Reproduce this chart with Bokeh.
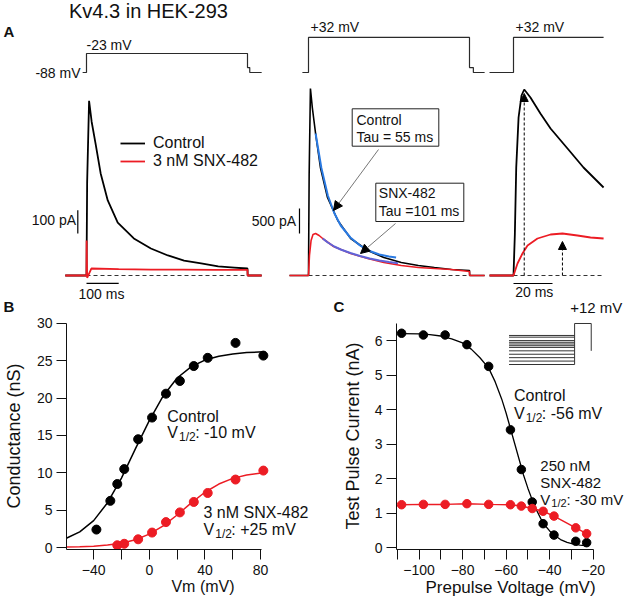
import math
from bokeh.plotting import figure
from bokeh.models import (Range1d, FixedTicker, Label, Arrow, NormalHead,
                          BoxAnnotation, Legend, LegendItem)
from bokeh.layouts import column, row
from bokeh.embed import file_html
from bokeh.resources import INLINE

FONT = "Liberation Sans"
INK = "#111111"
RED = "#ec1c24"
VOLT = "#2a2a2a"
FIT_CTRL = "#2a7ae2"
FIT_SNX = "#5f63d8"

# ======================= DATA =======================
# Panel A, left: step -88 -> -23 mV ; time (ms), current (pA)
a1_ctrl_t = [-66, 0, 2, 8, 16, 28, 44, 66, 97, 147, 200, 253, 303, 356, 409, 459, 500, 500.5, 544]
a1_ctrl_i = [0, 0, 400, 750, 660, 567, 438, 322, 227, 159, 116, 86, 64, 52, 39, 34, 30, 0, 0]
a1_snx_t = [-66, 0, 0.3, 2, 15, 100, 200, 300, 400, 500, 500.5, 544]
a1_snx_i = [0, 0, 150, -10, 30, 27, 25, 25, 24, 24, 0, 0]
a1_v_t = [-12, 0, 0, 500, 500, 507, 507, 544]
a1_v_mv = [-88, -88, -23, -23, -71, -71, -88, -88]

# Panel A, middle: step -88 -> +32 mV
a2_ctrl_t = [-59, 0, 2, 6, 12, 22, 37, 59, 91, 131, 184, 234, 288, 341, 391, 444, 500, 500.5, 547]
a2_ctrl_i = [0, 0, 2000, 3740, 3350, 2840, 2160, 1560, 1100, 740, 500, 360, 260, 200, 160, 120, 100, 0, 0]
a2_snx_t = [-59, 0, 3, 8, 14, 22, 33, 44, 78, 131, 184, 234, 288, 341, 391, 444, 500, 500.5, 547]
a2_snx_i = [0, 0, 400, 700, 820, 840, 800, 740, 580, 440, 340, 260, 200, 160, 140, 120, 80, 0, 0]
a2_v_t = [-19, 0, 0, 500, 500, 512, 512, 547]
a2_v_mv = [-88, -88, 32, 32, -71, -71, -88, -88]
# exponential fits drawn over the decays (Tau = 55 ms and 101 ms)
fit_ctrl_t = [22, 40, 60, 80, 100, 130, 160, 190, 220, 250, 272]
fit_ctrl_i = [2840, 2150, 1600, 1250, 1000, 760, 600, 490, 420, 380, 360]
fit_snx_t = [44, 60, 80, 100, 130, 160, 190, 220, 250, 278]
fit_snx_i = [740, 660, 580, 520, 450, 390, 340, 300, 270, 245]

# Panel A, right: first 46 ms of the +32 mV step
a3_ctrl_t = [-12.3, 0, 0.7, 1.4, 2.6, 4.1, 5.5, 8.7, 13.8, 19, 27.7, 35.9, 46.2]
a3_ctrl_i = [0, 0, 830, 2160, 3160, 3600, 3720, 3560, 3240, 2940, 2540, 2160, 1760]
a3_snx_t = [-12.3, 0, 2.05, 4.6, 7.2, 12.3, 19, 25.1, 32.8, 39.5, 46.2]
a3_snx_i = [0, 0, 240, 440, 600, 740, 820, 840, 800, 760, 740]
a3_v_t = [-12.3, 0, 0, 46.2]
a3_v_mv = [-88, -88, 32, 32]

PULSE_MS = 500
PULSE3_MS = 46.2
SCALE1_PA, SCALE1_MS = 100, 100
SCALE2_PA, SCALE3_MS = 500, 20

# Panel B: conductance vs Vm
b_v = [-38, -28, -23, -18, -8, 2, 12, 22, 32, 42, 62, 82]
b_ctrl = [2.4, 6.25, 8.5, 10.5, 14.5, 17.4, 20.6, 22.3, 24.3, 25.4, 27.4, 25.7]
b_snx_v = [-23, -18, -8, 2, 12, 22, 32, 42, 62, 82]
b_snx = [0.3, 0.5, 1.1, 2.0, 3.4, 4.7, 6.1, 7.3, 9.1, 10.3]
b_fit_v = [-60, -50, -40, -30, -20, -10, 0, 10, 20, 30, 40, 50, 60, 70, 82]
b_fit_ctrl = [1.2, 2.1, 3.6, 6.0, 9.3, 13.2, 17.0, 20.3, 22.7, 24.2, 25.1, 25.6, 25.9, 26.1, 26.2]
b_fit_snx = [0.05, 0.09, 0.18, 0.32, 0.58, 1.04, 1.79, 2.9, 4.35, 5.95, 7.4, 8.5, 9.26, 9.7, 10.0]

# Panel C: test pulse current vs prepulse voltage
c_v = [-108, -98, -88, -78, -68, -58, -53, -48, -43, -38, -28, -23]
c_ctrl = [6.21, 6.16, 6.16, 5.88, 5.25, 3.41, 2.26, 1.32, 0.69, 0.36, 0.18, 0.14]
c_snx = [1.24, 1.25, 1.25, 1.27, 1.25, 1.24, 1.20, 1.13, 1.05, 0.91, 0.57, 0.40]
c_fit_v = [-108, -100, -95, -90, -85, -80, -76, -72, -68, -65, -62, -60, -58, -56, -54,
           -52, -50, -48, -46, -44, -42, -40, -38, -35, -32, -29, -26, -23]
c_fit_ctrl = [6.2, 6.19, 6.17, 6.13, 6.05, 5.93, 5.75, 5.5, 5.2, 4.8, 4.3, 3.9, 3.45, 3.0, 2.55,
              2.1, 1.72, 1.38, 1.08, 0.83, 0.63, 0.48, 0.36, 0.23, 0.15, 0.1, 0.07, 0.05]
TEST_MV = 12
AFTER_MV = -68

# ======================= helpers =======================
def label(p, x, y, s, size=14, align="left", bold=False, angle=0.0,
          xr="default", yr="default", color=INK):
    p.add_layout(Label(x=x, y=y, text=s, text_font=FONT, text_font_size=f"{size}px",
                       text_align=align, text_baseline="middle",
                       text_font_style="bold" if bold else "normal",
                       text_color=color, angle=angle, x_range_name=xr, y_range_name=yr))


def v_half(p, x, y, rest, size=16, xr="default", yr="default"):
    label(p, x, y, "V", size, xr=xr, yr=yr)
    label(p, x + 0.75 * size, y + 0.29 * size, "1/2", round(size * 0.72), xr=xr, yr=yr)
    label(p, x + 1.78 * size, y, rest, size, xr=xr, yr=yr)


def style_axes(p, xt, xminor, yt, xbounds, ybounds, xlabel, ylabel,
               xl_size, yl_size, yl_standoff):
    p.xaxis.ticker = FixedTicker(ticks=xt, minor_ticks=xminor)
    p.yaxis.ticker = FixedTicker(ticks=yt, minor_ticks=[])
    p.xaxis.bounds = xbounds
    p.yaxis.bounds = ybounds
    for ax in (p.xaxis, p.yaxis):
        ax.axis_line_color = INK
        ax.axis_line_width = 1
        ax.major_tick_line_color = INK
        ax.minor_tick_line_color = INK
        ax.major_tick_out = 10
        ax.major_tick_in = 0
        ax.minor_tick_out = 10
        ax.minor_tick_in = 0
        ax.major_label_text_font = FONT
        ax.major_label_text_font_size = "14px"
        ax.major_label_text_color = INK
        ax.axis_label_text_font = FONT
        ax.axis_label_text_font_style = "normal"
        ax.axis_label_text_color = INK
    p.xaxis.major_label_standoff = 5
    p.yaxis.major_label_standoff = 4
    p.xaxis.axis_label = xlabel
    p.yaxis.axis_label = ylabel
    p.xaxis.axis_label_text_font_size = f"{xl_size}px"
    p.yaxis.axis_label_text_font_size = f"{yl_size}px"
    p.xaxis.axis_label_standoff = 0
    p.yaxis.axis_label_standoff = int(yl_standoff)
    p.xgrid.visible = False
    p.ygrid.visible = False
    p.outline_line_color = None


# ======================= layout geometry (screen px) =======================
W = 624
A_H = 314                      # panel A canvas: y 0..314
ROW_TOP, ROW_BOT = A_H, 599    # bottom row
FT = 322                       # frame top (screen y) of B and C
BY, CX = -15, -12              # shift of panels B / C relative to the reference
B_W = 339
B_FL, C_FL = 60, 391           # frame left edges
FB = 549                       # frame bottom (screen y) for B and C
B_X0, B_KX = 144.6, 1.4217     # screen x of 0 mV, px per mV in B
B_Y0, B_KY = 562 + BY, 7.467   # screen y of 0 nS, px per nS
C_X0, C_KX = 426 + CX, 2.225   # screen x of -100 mV, px per mV in C
C_Y0, C_KY = 562 + BY, 34.5

# ======================= Panel A =======================
A1_X0, A2_X0, A3_X0 = 86, 308, 513
MS_PX_SLOW, MS_PX_FAST = 0.322, 1.95
BASE_Y = 275
PA_PX_1, PA_PX_2 = 0.233, 0.05
V_Y0, MV_PX = 72, 0.2923


def rx(x0, k):
    return Range1d((0 - x0) / k, (W - x0) / k)


def ry(y0, k, base=0.0):
    return Range1d(base + (y0 - A_H) / k, base + (y0 - 0) / k)


pA = figure(width=W, height=A_H, x_range=Range1d(0, W), y_range=Range1d(A_H, 0),
            x_axis_location=None, y_axis_location=None,
            output_backend="svg", toolbar_location=None, min_border=0)
pA.outline_line_color = None
pA.xgrid.visible = False
pA.ygrid.visible = False
pA.extra_x_ranges = {"t1": rx(A1_X0, MS_PX_SLOW), "t2": rx(A2_X0, MS_PX_SLOW),
                     "t3": rx(A3_X0, MS_PX_FAST)}
pA.extra_y_ranges = {"i1": ry(BASE_Y, PA_PX_1), "i2": ry(BASE_Y, PA_PX_2),
                     "v": ry(V_Y0, MV_PX, base=-88)}

k1 = dict(x_range_name="t1", y_range_name="i1")
k2 = dict(x_range_name="t2", y_range_name="i2")
k3 = dict(x_range_name="t3", y_range_name="i2")
dash = dict(line_color="#333333", line_dash="4 3", line_width=1)

pA.line(a1_v_t, a1_v_mv, x_range_name="t1", y_range_name="v", line_color=VOLT, line_width=1.2)
pA.line(a2_v_t, a2_v_mv, x_range_name="t2", y_range_name="v", line_color=VOLT, line_width=1.2)
pA.line(a3_v_t, a3_v_mv, x_range_name="t3", y_range_name="v", line_color=VOLT, line_width=1.2)

pA.line([0, PULSE_MS], [0, 0], **k1, **dash)
pA.line([0, PULSE_MS], [0, 0], **k2, **dash)
pA.line([0, PULSE3_MS], [0, 0], **k3, **dash)

r1c = pA.line(a1_ctrl_t, a1_ctrl_i, **k1, line_color="black", line_width=1.8)
r1s = pA.line(a1_snx_t, a1_snx_i, **k1, line_color=RED, line_width=1.8)
pA.line(a2_ctrl_t, a2_ctrl_i, **k2, line_color="black", line_width=1.6)
pA.line(a2_snx_t, a2_snx_i, **k2, line_color=RED, line_width=1.6)
pA.line(fit_ctrl_t, fit_ctrl_i, **k2, line_color=FIT_CTRL, line_width=2)
pA.line(fit_snx_t, fit_snx_i, **k2, line_color=FIT_SNX, line_width=2)
pA.line(a3_ctrl_t, a3_ctrl_i, **k3, line_color="black", line_width=1.8)
pA.line(a3_snx_t, a3_snx_i, **k3, line_color=RED, line_width=1.8)

SB1_T, SB1_I0, SB1_IY = -27, 180, -34
SB2_T, SB2_I0, SB3_IY = -28, 840, -160
bar = dict(line_color="black", line_width=1.2)
pA.line([SB1_T, SB1_T], [SB1_I0, SB1_I0 + SCALE1_PA], **k1, **bar)
pA.line([0, SCALE1_MS], [SB1_IY, SB1_IY], **k1, **bar)
pA.line([SB2_T, SB2_T], [SB2_I0, SB2_I0 + SCALE2_PA], **k2, **bar)
pA.line([0, SCALE3_MS], [SB3_IY, SB3_IY], **k3, **bar)

ic = a3_ctrl_i.index(max(a3_ctrl_i))
isx = a3_snx_i.index(max(a3_snx_i))
pA.add_layout(Arrow(x_start=a3_ctrl_t[ic], y_start=0, x_end=a3_ctrl_t[ic], y_end=a3_ctrl_i[ic] - 80,
                    x_range_name="t3", y_range_name="i2", line_color="black", line_width=1,
                    line_dash="3 2", end=NormalHead(size=8, fill_color="black", line_color="black")))
pA.add_layout(Arrow(x_start=a3_snx_t[isx], y_start=0, x_end=a3_snx_t[isx], y_end=a3_snx_i[isx] - 160,
                    x_range_name="t3", y_range_name="i2", line_color="black", line_width=1,
                    line_dash="3 2", end=NormalHead(size=8, fill_color="black", line_color="black")))

pA.add_layout(BoxAnnotation(left=351.7, right=438.3, top=108.3, bottom=145.7, fill_color="white",
                            fill_alpha=1, line_color="#222222", line_width=1, line_alpha=1))
pA.add_layout(BoxAnnotation(left=375.3, right=463.3, top=182.7, bottom=221, fill_color="white",
                            fill_alpha=1, line_color="#222222", line_width=1, line_alpha=1))
pA.add_layout(Arrow(x_start=378, y_start=149, x_end=333, y_end=210, line_color="#666666",
                    line_width=0.9, end=NormalHead(size=9, fill_color="black", line_color="black")))
pA.add_layout(Arrow(x_start=395, y_start=223, x_end=360, y_end=253, line_color="#666666",
                    line_width=0.9, end=NormalHead(size=9, fill_color="black", line_color="black")))
label(pA, 356, 119, "Control", 14)
label(pA, 356, 136, "Tau = 55 ms", 14)
label(pA, 378.3, 192.8, "SNX-482", 14)
label(pA, 378.3, 210.8, "Tau =101 ms", 14)

leg = Legend(items=[LegendItem(label="Control", renderers=[r1c]),
                    LegendItem(label="3 nM SNX-482", renderers=[r1s])],
             location=(120, A_H - 170), glyph_width=25, glyph_height=18,
             label_height=18, label_standoff=8, spacing=0, padding=0, margin=0,
             border_line_color=None, background_fill_alpha=0, label_text_font=FONT,
             label_text_font_size="16px", label_text_color=INK)
pA.add_layout(leg)

label(pA, 148, 10.5, "Kv4.3 in HEK-293", 20, align="center")
label(pA, 3, 31, "A", 15, bold=True)
label(pA, 80, 72, "-88 mV", 14, align="right")
label(pA, 86, 44.5, "-23 mV", 14)
label(pA, 310, 26.7, "+32 mV", 14)
label(pA, 515, 26.7, "+32 mV", 14)
label(pA, 75.5, 219.5, "100 pA", 14, align="right")
label(pA, 101, 293.7, "100 ms", 14, align="center")
label(pA, 295.5, 220, "500 pA", 14, align="right")
label(pA, 533.8, 291.7, "20 ms", 14, align="center")
# panel letters of the lower row and the test-pulse label (above their frames)
LETTER_Y = A_H - 8
label(pA, 3, LETTER_Y, "B", 15, bold=True)
label(pA, 345 + CX, LETTER_Y, "C", 15, bold=True)
label(pA, 581.7 + CX, LETTER_Y + 0.5, "+12 mV", 15)

# ======================= Panel B =======================
B_H = ROW_BOT - ROW_TOP
pB = figure(width=B_W, height=B_H,
            x_range=Range1d((B_FL - B_X0) / B_KX, (B_W - B_X0) / B_KX),
            y_range=Range1d((B_Y0 - FB) / B_KY, (B_Y0 - FT) / B_KY),
            output_backend="svg", toolbar_location=None,
            min_border_left=B_FL, min_border_right=0, min_border_top=FT - ROW_TOP,
            min_border_bottom=ROW_BOT - FB)
style_axes(pB, [-40, 0, 40, 80], [-60, -20, 20, 60], [0, 5, 10, 15, 20, 25, 30],
           ((B_FL - B_X0) / B_KX, 81), ((B_Y0 - FB) / B_KY, 30),
           "Vm (mV)", "Conductance (nS)", 16, 18, 10)
pB.extra_x_ranges = {"px": Range1d(B_FL, B_W)}
pB.extra_y_ranges = {"px": Range1d(FB, FT)}
pB.line(b_fit_v, b_fit_ctrl, line_color="black", line_width=1.5)
pB.line(b_fit_v, b_fit_snx, line_color=RED, line_width=1.5)
pB.scatter(b_v, b_ctrl, size=9, color="black")
pB.scatter(b_snx_v, b_snx, size=9, color=RED)
pxB = dict(xr="px", yr="px")
label(pB, 163, 431 + BY, "Control", 16, **pxB)
v_half(pB, 163, 446.7 + BY, ": -10 mV", 16, **pxB)
label(pB, 200, 527 + BY, "3 nM SNX-482", 16, **pxB)
v_half(pB, 200, 543.5 + BY, ": +25 mV", 16, **pxB)

# ======================= Panel C =======================
C_W = W - B_W
pC = figure(width=C_W, height=B_H,
            x_range=Range1d(-100 + (C_FL - C_X0) / C_KX, -100 + (W - C_X0) / C_KX),
            y_range=Range1d((C_Y0 - FB) / C_KY, (C_Y0 - FT) / C_KY),
            output_backend="svg", toolbar_location=None,
            min_border_left=C_FL - B_W, min_border_right=0, min_border_top=FT - ROW_TOP,
            min_border_bottom=ROW_BOT - FB)
style_axes(pC, [-100, -80, -60, -40, -20], [-110, -90, -70, -50, -30], [0, 1, 2, 3, 4, 5, 6],
           (-100 + (C_FL - C_X0) / C_KX, -20), ((C_Y0 - FB) / C_KY, 6.5),
           "Prepulse Voltage (mV)", "Test Pulse Current (nA)", 17, 18, 9)
INS_Y0, INS_K = 379 + BY, 0.3417      # inset: screen y of -108 mV, px per mV
pC.extra_x_ranges = {"px": Range1d(C_FL, W)}
pC.extra_y_ranges = {"px": Range1d(FB, FT),
                     "inset": Range1d(-108 - (FB - INS_Y0) / INS_K, -108 + (INS_Y0 - FT) / INS_K)}
pC.line(c_fit_v, c_fit_ctrl, line_color="black", line_width=1.3)
pC.line(c_v, c_snx, line_color=RED, line_width=1.5)
pC.scatter(c_v, c_ctrl, size=8.5, color="black")
pC.scatter(c_v, c_snx, size=8.5, color=RED)
INS_X0, INS_X1, INS_X2 = 518 + CX, 585 + CX, 602 + CX
pC.segment(x0=[INS_X0] * len(c_v), x1=[INS_X1] * len(c_v), y0=c_v, y1=c_v,
           x_range_name="px", y_range_name="inset", line_color="#333333", line_width=1)
pC.line([INS_X1, INS_X1, INS_X2, INS_X2], [min(c_v), TEST_MV, TEST_MV, AFTER_MV],
        x_range_name="px", y_range_name="inset", line_color="#333333", line_width=1)
pxC = dict(xr="px", yr="px")
label(pC, 523 + CX, 410 + BY, "Control", 16, **pxC)
v_half(pC, 523 + CX, 427.5 + BY, ": -56 mV", 16, **pxC)
label(pC, 550 + CX, 480 + BY, "250 nM", 15, **pxC)
label(pC, 550 + CX, 496.7 + BY, "SNX-482", 15, **pxC)
v_half(pC, 550 + CX, 513.5 + BY, ": -30 mV", 15, **pxC)

layout = column(pA, row(pB, pC))
open("out.html", "w").write(file_html(layout, INLINE))
